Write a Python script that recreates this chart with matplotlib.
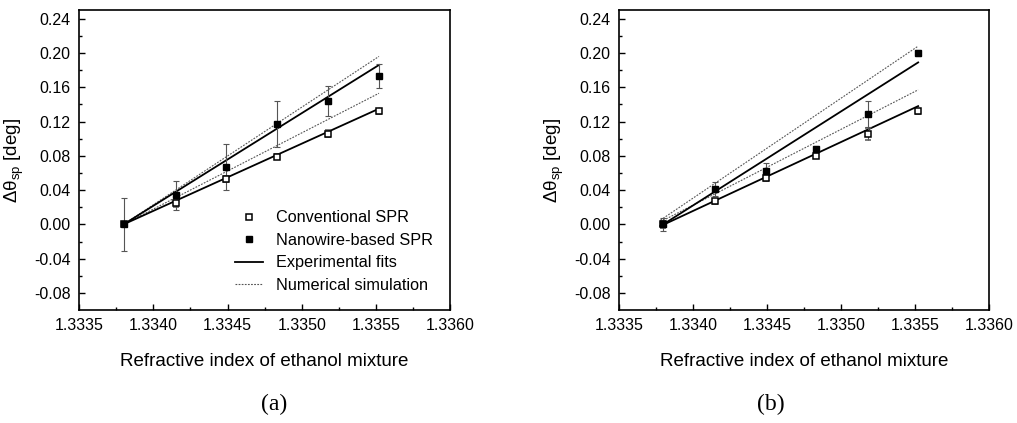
import matplotlib.pyplot as plt
import numpy as np
from matplotlib.lines import Line2D

# refractive index of the ethanol mixtures (same for both panels)
n_idx = [1.33380, 1.33415, 1.33449, 1.33483, 1.33518, 1.33552]

# panel (a)
conv_a = [0.000, 0.025, 0.053, 0.079, 0.106, 0.132]
conv_a_err = [0.003, 0.005, 0.004, 0.003, 0.004, 0.003]
nano_a = [0.000, 0.034, 0.067, 0.117, 0.144, 0.173]
nano_a_err = [0.031, 0.017, 0.027, 0.027, 0.018, 0.014]
# fit / simulation lines, values at the first and last index
fit_x = [1.33380, 1.33552]
fit_conv_a = [0.000, 0.135]
fit_nano_a = [0.000, 0.186]
sim_conv_a = [0.000, 0.153]
sim_nano_a = [0.000, 0.196]

# panel (b)
conv_b = [0.000, 0.027, 0.054, 0.080, 0.106, 0.132]
conv_b_err = [0.004, 0.003, 0.003, 0.003, 0.007, 0.003]
nano_b = [0.000, 0.041, 0.062, 0.088, 0.129, 0.200]
nano_b_err = [0.008, 0.008, 0.010, 0.004, 0.015, 0.003]
fit_x_b = [1.33378, 1.33552]
fit_conv_b = [-0.002, 0.138]
fit_nano_b = [-0.002, 0.189]
sim_conv_b = [0.003, 0.157]
sim_nano_b = [0.005, 0.208]

xticks = [1.3335, 1.3340, 1.3345, 1.3350, 1.3355, 1.3360]
yticks = [-0.08, -0.04, 0.00, 0.04, 0.08, 0.12, 0.16, 0.20, 0.24]

plt.rcParams['font.family'] = ['Liberation Sans', 'DejaVu Sans']
plt.rcParams['mathtext.default'] = 'regular'

fig = plt.figure(figsize=(10.17, 4.23), dpi=100)
ax_a = fig.add_axes([0.0777, 0.267, 0.365, 0.709])
ax_b = fig.add_axes([0.6087, 0.267, 0.364, 0.709])

DOT = (0, (1.6, 1.2))
MS = 4.6


def panel(ax, conv, conv_err, nano, nano_err, fx, fc, fn, sc, sn):
    ax.plot(fx, sc, ls=DOT, color='#555555', lw=0.8)
    ax.plot(fx, sn, ls=DOT, color='#555555', lw=0.8)
    ax.plot(fx, fc, color='black', lw=1.3)
    ax.plot(fx, fn, color='black', lw=1.3)
    ax.errorbar(n_idx, conv, yerr=conv_err, fmt='s', ms=MS, mfc='white',
                mec='black', mew=1.1, ecolor='#555555', elinewidth=0.8,
                capsize=2.2, capthick=0.8)
    ax.errorbar(n_idx, nano, yerr=nano_err, fmt='s', ms=MS, mfc='black',
                mec='black', ecolor='#555555', elinewidth=0.8,
                capsize=2.2, capthick=0.8)
    ax.set_xticks(xticks)
    ax.set_xticklabels(['%.4f' % v for v in xticks])
    ax.set_xticks(np.array(xticks[:-1]) + 0.00025, minor=True)
    ax.set_yticks(yticks)
    ax.set_yticklabels(['%.2f' % v for v in yticks])
    ax.set_yticks(np.array(yticks[:-1]) + 0.02, minor=True)
    ax.set_xlim(1.3335, 1.3360)
    ax.set_ylim(-0.10, 0.25)
    ax.tick_params(which='both', direction='in', top=False, right=False,
                   labelsize=11.5, width=1.0)
    ax.tick_params(which='major', length=4, pad=6)
    ax.tick_params(which='minor', length=2.5)
    for s in ax.spines.values():
        s.set_linewidth(1.2)
    ax.set_xlabel('Refractive index of ethanol mixture', fontsize=13.5, labelpad=14)
    ax.set_ylabel(r'$\Delta\theta_{sp}$ [deg]', fontsize=13.5, labelpad=6)


panel(ax_a, conv_a, conv_a_err, nano_a, nano_a_err, fit_x,
      fit_conv_a, fit_nano_a, sim_conv_a, sim_nano_a)
panel(ax_b, conv_b, conv_b_err, nano_b, nano_b_err, fit_x_b,
      fit_conv_b, fit_nano_b, sim_conv_b, sim_nano_b)

# legend only in (a)
handles = [
    Line2D([], [], ls='none', marker='s', ms=MS, mfc='white', mec='black', mew=1.1),
    Line2D([], [], ls='none', marker='s', ms=MS, mfc='black', mec='black'),
    Line2D([], [], color='black', lw=1.3),
    Line2D([], [], color='#555555', lw=0.8, ls=DOT),
]
labels = ['Conventional SPR', 'Nanowire-based SPR', 'Experimental fits',
          'Numerical simulation']
ax_a.legend(handles, labels, loc='upper left', bbox_to_anchor=(0.42, 0.332),
            frameon=False, fontsize=11.7, handlelength=1.75, labelspacing=0.46,
            handletextpad=0.8, borderpad=0, borderaxespad=0)

fig.text(0.270, 0.043, '(a)', fontsize=17, family='Liberation Serif',
         ha='center', va='center')
fig.text(0.758, 0.043, '(b)', fontsize=17, family='Liberation Serif',
         ha='center', va='center')

fig.savefig('out.png', dpi=100)
